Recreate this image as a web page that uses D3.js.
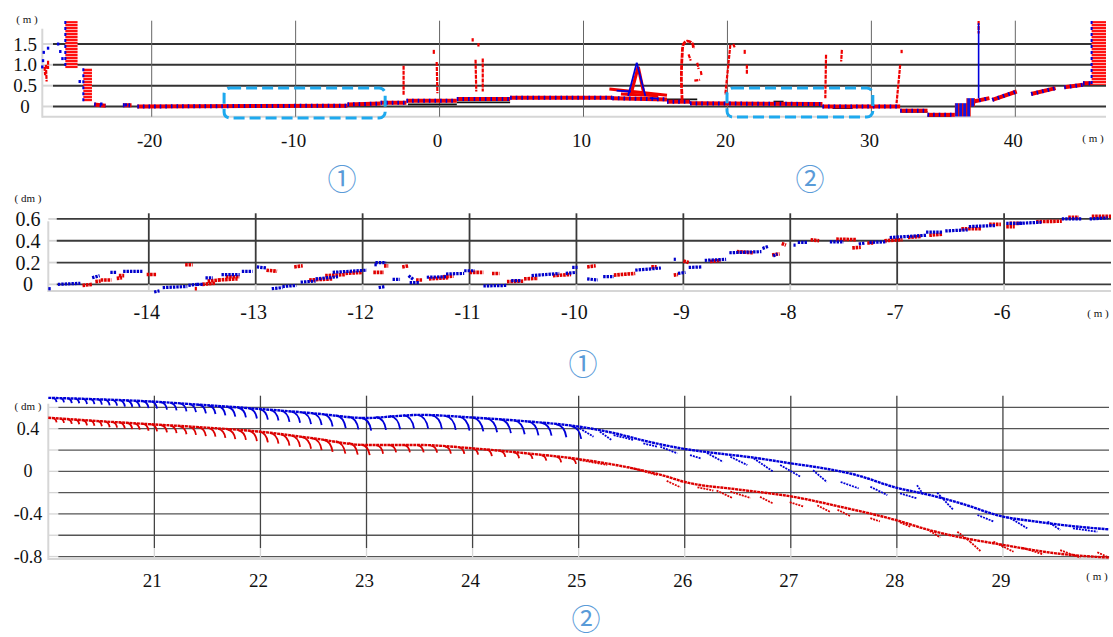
<!DOCTYPE html>
<html>
<head>
<meta charset="utf-8">
<script src="https://cdn.jsdelivr.net/npm/d3@7"></script>
<style>
  body { margin: 0; background: #fff; }
  svg { display: block; }
</style>
</head>
<body>
<svg id="chart" width="1113" height="637"></svg>
<script>
// ---------- overview (m) ----------
const ovXTicks = [-20, -10, 0, 10, 20, 30, 40];
const ovYTicks = [0, 0.5, 1.0, 1.5];
const ovYLabels = ["0", "0.5", "1.0", "1.5"];

// ground strips [x1, y1, x2, y2]
const ovGround = [
  [-24.0, 0.05, -23.2, 0.02], [-22.0, 0.03, -21.4, 0.03], [-21.0, 0.0, -6.4, 0.02],
  [-6.4, 0.05, -4.1, 0.07], [-4.1, 0.09, -2.3, 0.09], [-2.3, 0.14, 1.2, 0.14],
  [1.2, 0.18, 4.9, 0.18], [4.9, 0.21, 12.0, 0.21], [12.0, 0.2, 15.8, 0.17],
  [15.8, 0.115, 17.4, 0.115], [17.4, 0.075, 26.6, 0.06], [26.6, 0.0, 32.0, 0.0],
  [32.0, -0.1, 33.9, -0.1], [33.9, -0.2, 35.8, -0.2], [37.1, 0.12, 38.2, 0.2],
  [38.4, 0.16, 40.1, 0.36], [41.1, 0.3, 42.8, 0.44], [43.4, 0.46, 44.7, 0.52],
  [44.7, 0.56, 45.4, 0.56]
];
// reference surface (black)
const ovRef = [
  [-2.2, 0.05, 1.2, 0.05], [1.2, 0.1, 4.9, 0.1], [14.8, 0.17, 17.9, 0.17],
  [23.2, 0.12, 23.9, 0.12], [27.3, -0.04, 28.7, -0.04], [32.1, -0.13, 33.9, -0.13],
  [33.9, -0.23, 35.5, -0.23]
];
// walls [x0, x1, y0, y1]
const ovWalls = [[-26.0, -25.15, 0.92, 2.05], [-24.75, -24.15, 0.12, 0.92], [45.3, 46.3, 0.52, 2.05]];
const ovBlueBlocks = [[35.8, 36.9, -0.24, 0.08], [36.6, 37.2, 0.0, 0.2]];
const ovRedPoles = [
  [-2.5, 0.98, -2.5, 0.28], [-0.4, 1.36, -0.4, 1.24], [-0.2, 1.07, -0.15, 0.32],
  [2.3, 1.64, 2.3, 1.56], [2.7, 1.52, 2.7, 1.44], [2.5, 1.12, 2.55, 0.36], [3.0, 1.15, 3.0, 0.36],
  [17.3, 1.25, 17.45, 1.1], [17.9, 1.05, 18.0, 0.9], [18.15, 0.85, 18.2, 0.75], [17.7, 0.62, 18.1, 0.64],
  [20.2, 1.48, 19.85, 0.28], [20.4, 1.5, 20.5, 1.42], [21.2, 1.36, 21.2, 1.24], [21.35, 1.0, 21.35, 0.76],
  [26.85, 1.24, 26.8, 0.2], [27.95, 1.36, 27.9, 1.08], [32.1, 1.36, 32.1, 1.28], [32.0, 1.0, 31.75, 0.08],
  [37.45, 2.05, 37.45, 1.75],
  [-27.35, 1.0, -27.3, 0.6], [-27.45, 0.95, -27.4, 0.75], [-27.2, 1.1, -27.2, 0.9]
];
const ovBluePoles = [[37.45, 2.0, 37.45, 0.2]];
const ovTree = [[16.85, 0.16], [16.8, 0.7], [16.85, 1.2], [16.95, 1.5], [17.2, 1.57], [17.55, 1.52], [17.65, 1.38]];
const ovCarRed = [[11.8, 0.42, 15.8, 0.27], [12.6, 0.3, 15.2, 0.26], [13.3, 0.3, 13.8, 0.95], [13.8, 0.95, 14.2, 0.3]];
const ovCarBlue = [[13.1, 0.25, 13.7, 1.05], [13.7, 1.05, 14.3, 0.25], [12.3, 0.38, 13.3, 0.36], [14.6, 0.2, 15.2, 0.19]];
const ovBlueDots = [[-27.5, 1.3], [-27.55, 1.1], [-27.6, 0.95], [-27.2, 1.4], [-26.5, 1.5], [-26.35, 1.32],
  [-26.2, 1.15], [-25.0, 0.6], [-21.8, 0.04], [-23.5, 0.06]];
// highlighted regions [x0, x1, y0, y1]
const ovBoxes = [[-14.97, -3.78, -0.276, 0.444], [19.97, 30.1, -0.252, 0.444]];

// ---------- detail 1 (dm) ----------
const d1XTicks = [-14, -13, -12, -11, -10, -9, -8, -7, -6];
const d1YTicks = [0, 0.2, 0.4, 0.6];
const d1YLabels = ["0", "0.2", "0.4", "0.6"];
const d1Blue = [
  [-14.94, -0.04, -14.91, -0.04], [-14.85, 0.0, -14.64, 0.01], [-14.53, 0.06, -14.46, 0.08],
  [-14.36, 0.11, -14.3, 0.11], [-14.24, 0.12, -14.06, 0.12], [-13.95, -0.07, -13.9, -0.06],
  [-13.87, -0.03, -13.64, -0.02], [-13.63, -0.01, -13.55, 0.0], [-13.55, 0.0, -13.49, 0.0],
  [-13.47, 0.06, -13.4, 0.06], [-13.32, 0.09, -13.15, 0.09], [-13.13, 0.12, -13.03, 0.12],
  [-12.99, 0.16, -12.9, 0.15], [-12.85, -0.04, -12.75, -0.03], [-12.75, -0.02, -12.62, -0.01],
  [-12.58, 0.02, -12.44, 0.03], [-12.44, 0.05, -12.23, 0.07], [-12.28, 0.11, -11.96, 0.13],
  [-11.89, 0.18, -11.86, 0.18], [-11.88, 0.2, -11.78, 0.2], [-11.85, -0.03, -11.79, -0.02],
  [-11.72, 0.045, -11.65, 0.045], [-11.57, 0.08, -11.52, 0.04], [-11.56, 0.015, -11.47, 0.015],
  [-11.40, 0.065, -11.22, 0.07], [-11.22, 0.095, -11.05, 0.1], [-11.05, 0.125, -10.95, 0.125],
  [-10.87, -0.015, -10.65, -0.01], [-10.61, 0.035, -10.52, 0.035], [-10.42, 0.08, -10.16, 0.1],
  [-10.1, 0.1, -10.0, 0.11], [-10.04, 0.155, -9.99, 0.155], [-9.9, 0.05, -9.8, 0.04],
  [-9.75, 0.07, -9.65, 0.07], [-9.45, 0.13, -9.21, 0.15], [-9.09, 0.23, -9.07, 0.23],
  [-9.05, 0.1, -8.98, 0.11], [-8.95, 0.155, -8.83, 0.16], [-8.8, 0.22, -8.6, 0.23],
  [-8.57, 0.29, -8.27, 0.3], [-8.26, 0.33, -8.2, 0.35], [-8.16, 0.26, -8.12, 0.28],
  [-7.97, 0.36, -7.95, 0.36], [-7.93, 0.385, -7.84, 0.385], [-7.63, 0.39, -7.5, 0.39],
  [-7.36, 0.37, -7.3, 0.38], [-7.26, 0.385, -7.1, 0.39], [-7.07, 0.43, -6.73, 0.45],
  [-6.73, 0.48, -6.58, 0.48], [-6.55, 0.49, -6.34, 0.5], [-6.33, 0.53, -6.08, 0.54],
  [-5.98, 0.56, -5.83, 0.56], [-5.86, 0.56, -5.65, 0.57], [-5.46, 0.6, -5.27, 0.6],
  [-5.2, 0.6, -5.03, 0.61]
];
const d1Red = [
  [-14.62, -0.01, -14.53, 0.0], [-14.5, 0.025, -14.45, 0.03], [-14.45, 0.04, -14.35, 0.04],
  [-14.3, 0.055, -14.25, 0.06], [-14.28, 0.08, -14.23, 0.08], [-14.02, 0.09, -13.93, 0.09],
  [-13.66, 0.18, -13.59, 0.18], [-13.57, -0.04, -13.55, -0.04], [-13.5, 0.0, -13.38, 0.01],
  [-13.45, 0.03, -13.34, 0.04], [-13.35, 0.04, -13.17, 0.05], [-13.28, 0.07, -13.15, 0.07],
  [-12.9, 0.13, -12.8, 0.12], [-12.64, 0.16, -12.56, 0.17], [-12.5, 0.04, -12.28, 0.05],
  [-12.35, 0.08, -12.16, 0.09], [-12.16, 0.1, -12.0, 0.11], [-11.9, 0.11, -11.8, 0.11],
  [-11.8, 0.17, -11.76, 0.17], [-11.63, 0.16, -11.57, 0.17], [-11.5, 0.04, -11.44, 0.04],
  [-11.38, 0.05, -11.2, 0.06], [-11.25, 0.07, -11.15, 0.075], [-11.0, 0.11, -10.87, 0.11],
  [-10.79, 0.1, -10.72, 0.1], [-10.65, 0.025, -10.49, 0.03], [-10.49, 0.05, -10.36, 0.055],
  [-10.22, 0.08, -10.05, 0.09], [-9.9, 0.16, -9.82, 0.17], [-9.65, 0.085, -9.45, 0.1],
  [-9.3, 0.16, -9.25, 0.16], [-9.09, 0.085, -9.05, 0.09], [-9.0, 0.215, -8.95, 0.2],
  [-8.75, 0.21, -8.65, 0.22], [-8.5, 0.3, -8.35, 0.29], [-8.17, 0.27, -8.1, 0.28],
  [-8.08, 0.375, -8.04, 0.36], [-7.81, 0.41, -7.73, 0.4], [-7.57, 0.415, -7.38, 0.41],
  [-7.42, 0.335, -7.34, 0.34], [-7.28, 0.38, -7.22, 0.38], [-7.12, 0.4, -6.95, 0.41],
  [-6.9, 0.43, -6.78, 0.44], [-6.7, 0.45, -6.58, 0.46], [-6.4, 0.51, -6.21, 0.51],
  [-6.14, 0.55, -6.03, 0.55], [-5.98, 0.53, -5.9, 0.53], [-5.95, 0.56, -5.85, 0.56],
  [-5.7, 0.575, -5.46, 0.58], [-5.4, 0.615, -5.3, 0.615], [-5.18, 0.625, -5.0, 0.625]
];

// ---------- detail 2 (dm) ----------
const d2XTicks = [21, 22, 23, 24, 25, 26, 27, 28, 29];
const d2YGrid = [-0.8, -0.6, -0.4, -0.2, 0, 0.2, 0.4, 0.6];
const d2YTicks = [-0.8, -0.4, 0, 0.4];
const d2YLabels = ["-0.8", "-0.4", "0", "0.4"];
const d2BlueLine = [[20.0, 0.69], [20.5, 0.675], [21, 0.654], [21.5, 0.62], [22, 0.585], [22.5, 0.545],
  [23, 0.5], [23.3, 0.52], [23.5, 0.53], [24, 0.505], [24.5, 0.47], [25, 0.42], [25.33, 0.36],
  [25.65, 0.28], [26, 0.21], [26.3, 0.17], [26.6, 0.135], [27, 0.075], [27.3, 0.03], [27.6, -0.03],
  [28, -0.155], [28.3, -0.22], [28.6, -0.3], [29, -0.425], [29.3, -0.47], [29.57, -0.505], [30, -0.545]];
const d2RedLine = [[20, 0.503], [20.5, 0.47], [21, 0.44], [21.5, 0.41], [22, 0.372], [22.5, 0.31],
  [23, 0.247], [23.5, 0.247], [24, 0.216], [24.5, 0.17], [25, 0.115], [25.5, 0.03], [25.8, -0.04],
  [26, -0.1], [26.5, -0.17], [27, -0.235], [27.5, -0.34], [28, -0.46], [28.3, -0.55], [28.6, -0.62],
  [29, -0.69], [29.5, -0.77], [30, -0.81]];
// scan hooks [x, y, drop]
const d2BlueHooks = [
  [20.05, 0.69, 0.04], [20.12, 0.688, 0.04], [20.19, 0.686, 0.045], [20.26, 0.684, 0.045], [20.33, 0.682, 0.05],
  [20.40, 0.68, 0.05], [20.47, 0.677, 0.05], [20.54, 0.674, 0.055], [20.61, 0.671, 0.055], [20.68, 0.668, 0.06],
  [20.75, 0.665, 0.06], [20.82, 0.662, 0.06], [20.90, 0.658, 0.065], [20.98, 0.655, 0.065], [21.07, 0.65, 0.07],
  [21.16, 0.643, 0.07], [21.25, 0.637, 0.075], [21.34, 0.631, 0.075], [21.43, 0.625, 0.08], [21.52, 0.618, 0.08],
  [21.61, 0.611, 0.085], [21.70, 0.604, 0.09], [21.80, 0.597, 0.09], [21.90, 0.591, 0.095], [22.00, 0.585, 0.1],
  [22.10, 0.577, 0.1], [22.20, 0.569, 0.105], [22.30, 0.561, 0.105], [22.40, 0.553, 0.11], [22.50, 0.545, 0.11],
  [22.60, 0.536, 0.115], [22.72, 0.525, 0.12], [22.84, 0.513, 0.12], [22.96, 0.503, 0.12], [23.10, 0.51, 0.12],
  [23.23, 0.52, 0.125], [23.36, 0.527, 0.125], [23.49, 0.53, 0.13], [23.62, 0.527, 0.13], [23.75, 0.52, 0.13],
  [23.88, 0.513, 0.13], [24.01, 0.505, 0.13], [24.14, 0.497, 0.13], [24.27, 0.489, 0.13], [24.40, 0.478, 0.13],
  [24.53, 0.468, 0.13], [24.66, 0.455, 0.12], [24.80, 0.44, 0.12], [24.94, 0.425, 0.12]
];
const d2RedHooks = [
  [20.05, 0.5, 0.04], [20.12, 0.495, 0.04], [20.19, 0.491, 0.045], [20.26, 0.487, 0.045], [20.33, 0.482, 0.05],
  [20.40, 0.478, 0.05], [20.47, 0.473, 0.05], [20.54, 0.469, 0.055], [20.61, 0.465, 0.055], [20.68, 0.46, 0.06],
  [20.75, 0.456, 0.06], [20.82, 0.451, 0.06], [20.90, 0.446, 0.065], [20.98, 0.441, 0.065], [21.07, 0.435, 0.07],
  [21.16, 0.429, 0.07], [21.25, 0.423, 0.075], [21.34, 0.417, 0.075], [21.43, 0.411, 0.08], [21.52, 0.405, 0.08],
  [21.61, 0.399, 0.085], [21.70, 0.392, 0.09], [21.80, 0.385, 0.09], [21.90, 0.379, 0.095], [22.00, 0.372, 0.1],
  [22.10, 0.36, 0.1], [22.20, 0.347, 0.105], [22.30, 0.335, 0.105], [22.40, 0.322, 0.11], [22.50, 0.31, 0.11],
  [22.60, 0.297, 0.115], [22.72, 0.282, 0.115], [22.84, 0.267, 0.11], [22.96, 0.252, 0.1], [23.10, 0.245, 0.08],
  [23.23, 0.247, 0.07], [23.36, 0.248, 0.07], [23.49, 0.247, 0.07], [23.62, 0.24, 0.065], [23.75, 0.232, 0.065],
  [23.88, 0.224, 0.06], [24.01, 0.216, 0.06], [24.14, 0.203, 0.06], [24.27, 0.19, 0.055], [24.40, 0.178, 0.055],
  [24.53, 0.167, 0.05], [24.66, 0.15, 0.05], [24.80, 0.135, 0.05], [24.94, 0.12, 0.05]
];
// secondary scan lines [x1, y1, x2, y2]
const d2BlueScan = [
  [25.01, 0.404, 25.14, 0.325], [25.2, 0.372, 25.31, 0.294], [25.33, 0.34, 25.52, 0.294],
  [25.61, 0.263, 25.74, 0.231], [25.77, 0.231, 25.93, 0.169], [26.05, 0.153, 26.15, 0.122],
  [26.21, 0.172, 26.36, 0.09], [26.43, 0.137, 26.59, 0.059], [26.65, 0.122, 26.83, 0.0],
  [26.9, 0.06, 27.09, -0.05], [27.21, 0.01, 27.34, -0.1], [27.47, -0.1, 27.64, -0.16],
  [27.75, -0.145, 27.91, -0.223], [28.03, -0.207, 28.19, -0.254], [28.19, -0.13, 28.25, -0.22],
  [28.38, -0.2, 28.53, -0.36], [28.76, -0.41, 28.91, -0.47], [29.07, -0.44, 29.23, -0.535],
  [29.42, -0.47, 29.54, -0.55], [29.66, -0.535, 29.89, -0.567]
];
const d2RedScan = [
  [25.01, 0.106, 25.27, 0.06], [25.46, 0.043, 25.74, -0.035], [25.83, -0.09, 25.96, -0.15],
  [26.12, -0.15, 26.27, -0.18], [26.3, -0.18, 26.45, -0.25], [26.43, -0.19, 26.62, -0.25],
  [26.71, -0.24, 26.83, -0.3], [26.99, -0.29, 27.12, -0.33], [27.25, -0.32, 27.37, -0.38],
  [27.44, -0.36, 27.56, -0.42], [27.75, -0.44, 27.84, -0.47], [28.03, -0.48, 28.13, -0.52],
  [28.31, -0.56, 28.41, -0.62], [28.57, -0.567, 28.69, -0.66], [28.69, -0.66, 28.79, -0.75],
  [28.91, -0.66, 29.1, -0.755], [29.19, -0.72, 29.38, -0.78], [29.54, -0.74, 29.73, -0.81],
  [29.89, -0.76, 30.0, -0.81]
];

// ---------- drawing ----------
const svg = d3.select("#chart");
const RED = "#f00000", BLUE = "#0000dd";
const SERIF = "Liberation Serif";

const defs = svg.append("defs");
const hatch = defs.append("pattern").attr("id", "wallHatch")
  .attr("width", 6).attr("height", 3).attr("patternUnits", "userSpaceOnUse");
hatch.append("rect").attr("width", 6).attr("height", 3).attr("fill", "#ff1010");
hatch.append("rect").attr("y", 2.1).attr("width", 6).attr("height", 0.9).attr("fill", "#ffc0c0");
const blueHatch = defs.append("pattern").attr("id", "blueHatch")
  .attr("width", 4).attr("height", 4).attr("patternUnits", "userSpaceOnUse");
blueHatch.append("rect").attr("width", 4).attr("height", 4).attr("fill", "#1515e0");
blueHatch.append("rect").attr("x", 2).attr("width", 1.3).attr("height", 4).attr("fill", "#e01010");

function label(sel, size) {
  return sel.attr("font-family", SERIF).attr("font-size", size).attr("fill", "#111");
}

function frame(L) {
  const x = d3.scaleLinear().domain(L.xDomain).range([L.left, L.right]);
  const y = d3.scaleLinear().domain(L.yDomain).range([L.bottom, L.top]);
  const g = svg.append("g");

  g.append("line").attr("x1", L.left).attr("x2", L.left).attr("y1", L.top + 8).attr("y2", L.bottom + 1)
    .attr("stroke", "#d6d6d6").attr("stroke-width", 2);
  g.append("line").attr("x1", L.left).attr("x2", L.right).attr("y1", L.bottom).attr("y2", L.bottom)
    .attr("stroke", "#d6d6d6").attr("stroke-width", 2);

  // y stubs and grid
  g.selectAll(".ystub").data(L.yGrid).join("line").attr("class", "ystub")
    .attr("x1", L.left).attr("x2", L.gridStart).attr("y1", d => y(d)).attr("y2", d => y(d))
    .attr("stroke", "#d6d6d6").attr("stroke-width", L.hWidth);
  g.selectAll(".ygrid").data(L.yGrid).join("line").attr("class", "ygrid")
    .attr("x1", L.gridStart).attr("x2", L.right).attr("y1", d => y(d)).attr("y2", d => y(d))
    .attr("stroke", L.hColor).attr("stroke-width", L.hWidth);

  // x grid: dark part + light tail
  g.selectAll(".xgrid").data(L.xTicks).join("line").attr("class", "xgrid")
    .attr("x1", d => x(d)).attr("x2", d => x(d)).attr("y1", L.top).attr("y2", y(L.darkTo))
    .attr("stroke", L.vColor).attr("stroke-width", L.vWidth);
  g.selectAll(".xtail").data(L.xTicks).join("line").attr("class", "xtail")
    .attr("x1", d => x(d)).attr("x2", d => x(d)).attr("y1", y(L.darkTo)).attr("y2", L.bottom)
    .attr("stroke", "#d6d6d6").attr("stroke-width", L.vWidth);

  // labels
  g.selectAll(".xlab").data(L.xTicks).join("text").attr("class", "xlab")
    .call(label, L.xFont)
    .attr("x", d => x(d) - 2).attr("y", L.xLabelY)
    .attr("text-anchor", "middle").attr("dominant-baseline", "central").text(d => d);
  g.selectAll(".ylab").data(L.yTicks).join("text").attr("class", "ylab")
    .call(label, L.yFont)
    .attr("x", L.yLabelX).attr("y", d => y(d))
    .attr("text-anchor", "middle").attr("dominant-baseline", "central").text((d, i) => L.yLabels[i]);
  g.append("text").call(label, 11)
    .attr("x", L.unitY[0]).attr("y", L.unitY[1]).attr("text-anchor", "middle")
    .attr("dominant-baseline", "central").text(L.unitYText);
  g.append("text").call(label, 11)
    .attr("x", L.unitX[0]).attr("y", L.unitX[1]).attr("text-anchor", "middle")
    .attr("dominant-baseline", "central").text("( m )");
  return { g, x, y };
}

function segs(g, data, x, y, color, width, dash) {
  g.append("g").selectAll("line").data(data).join("line")
    .attr("x1", d => x(d[0])).attr("y1", d => y(d[1]))
    .attr("x2", d => x(d[2])).attr("y2", d => y(d[3]))
    .attr("stroke", color).attr("stroke-width", width)
    .attr("stroke-dasharray", dash || null);
}

// ===== panel 1 =====
const p1 = frame({
  left: 42.3, right: 1106, top: 20.7, bottom: 116.7, gridStart: 53,
  xDomain: [-27.6, 46.3], yDomain: [-0.245, 2.06],
  xTicks: ovXTicks, yGrid: ovYTicks, yTicks: ovYTicks, yLabels: ovYLabels,
  hWidth: 2, hColor: "#333", vWidth: 1, vColor: "#666", darkTo: -0.245,
  xLabelY: 140, xFont: 19, yLabelX: 25, yFont: 19,
  unitY: [27, 19], unitYText: "( m )", unitX: [1093, 138]
});
{
  const { g, x, y } = p1;
  segs(g, ovRef, x, y, "#111", 1.6);
  segs(g, ovGround, x, y, RED, 4);
  segs(g, ovGround, x, y, BLUE, 4, "1.6,4");
  g.append("g").selectAll("rect").data(ovWalls).join("rect")
    .attr("x", d => x(d[0])).attr("width", d => x(d[1]) - x(d[0]))
    .attr("y", d => y(d[3])).attr("height", d => y(d[2]) - y(d[3]))
    .attr("fill", "url(#wallHatch)");
  g.append("g").selectAll("line").data(ovWalls).join("line")
    .attr("x1", d => x(d[0])).attr("x2", d => x(d[0]))
    .attr("y1", d => y(d[3])).attr("y2", d => y(d[2]))
    .attr("stroke", BLUE).attr("stroke-width", 2).attr("stroke-dasharray", "3,3");
  g.append("g").selectAll("rect").data(ovBlueBlocks).join("rect")
    .attr("x", d => x(d[0])).attr("width", d => x(d[1]) - x(d[0]))
    .attr("y", d => y(d[3])).attr("height", d => y(d[2]) - y(d[3]))
    .attr("fill", "url(#blueHatch)");
  segs(g, ovRedPoles, x, y, RED, 2.2, "4,1");
  segs(g, ovBluePoles, x, y, BLUE, 1.6);
  segs(g, ovCarRed, x, y, RED, 3.2);
  segs(g, ovCarBlue, x, y, BLUE, 1.8);
  g.append("path").datum(ovTree)
    .attr("d", d3.line().x(d => x(d[0])).y(d => y(d[1])).curve(d3.curveCatmullRom))
    .attr("fill", "none").attr("stroke", RED).attr("stroke-width", 2.8).attr("stroke-dasharray", "5,1");
  g.append("g").selectAll("rect").data(ovBlueDots).join("rect")
    .attr("x", d => x(d[0]) - 1.2).attr("y", d => y(d[1]) - 1.5)
    .attr("width", 2.4).attr("height", 3).attr("fill", BLUE);
  g.append("g").selectAll("rect").data(ovBoxes).join("rect")
    .attr("x", d => x(d[0])).attr("width", d => x(d[1]) - x(d[0]))
    .attr("y", d => y(d[3])).attr("height", d => y(d[2]) - y(d[3]))
    .attr("rx", 6).attr("fill", "none").attr("stroke", "#1ea9ee")
    .attr("stroke-width", 3).attr("stroke-dasharray", "11,5");
}

// ===== panel 2 =====
const p2 = frame({
  left: 48.3, right: 1111, top: 213.3, bottom: 291, gridStart: 56.7,
  xDomain: [-14.94, -5.0], yDomain: [-0.061, 0.652],
  xTicks: d1XTicks, yGrid: d1YTicks, yTicks: d1YTicks, yLabels: d1YLabels,
  hWidth: 1.8, hColor: "#3a3a3a", vWidth: 1.8, vColor: "#3a3a3a", darkTo: 0,
  xLabelY: 311.5, xFont: 20, yLabelX: 28, yFont: 20,
  unitY: [28, 198], unitYText: "( dm )", unitX: [1098, 313]
});
{
  const { g, x, y } = p2;
  segs(g, d1Red, x, y, "#e00000", 3.6, "2.6,0.8");
  segs(g, d1Blue, x, y, "#0000cc", 3.2, "2.4,1");
}

// ===== panel 3 =====
const p3 = frame({
  left: 48.3, right: 1109, top: 395.7, bottom: 559, gridStart: 58.3,
  xDomain: [20, 30], yDomain: [-0.823, 0.71],
  xTicks: d2XTicks, yGrid: d2YGrid, yTicks: d2YTicks, yLabels: d2YLabels,
  hWidth: 1.3, hColor: "#555", vWidth: 1.3, vColor: "#444", darkTo: -0.72,
  xLabelY: 580, xFont: 19, yLabelX: 28, yFont: 18,
  unitY: [28, 406], unitYText: "( dm )", unitX: [1097, 576]
});
{
  const { g, x, y } = p3;
  const line = d3.line().x(d => x(d[0])).y(d => y(d[1])).curve(d3.curveMonotoneX);
  // short scan hook: leaves the surface line and bends down to the right
  const hook = d => {
    const px = x(d[0]), py = y(d[1]), h = y(d[1] - d[2]) - py;
    return `M${px - 1},${py} Q${px + h * 0.55},${py + h * 0.1} ${px + h * 0.7},${py + h}`;
  };
  [[d2BlueLine, d2BlueHooks, d2BlueScan, "#0000d8"], [d2RedLine, d2RedHooks, d2RedScan, "#dc0000"]]
    .forEach(([ln, hooks, scan, c]) => {
      g.append("path").datum(ln).attr("d", line)
        .attr("fill", "none").attr("stroke", c).attr("stroke-width", 2.4).attr("stroke-dasharray", "3,0.7");
      g.append("g").selectAll("path").data(hooks).join("path").attr("d", hook)
        .attr("fill", "none").attr("stroke", c).attr("stroke-width", 1.8);
      segs(g, scan, x, y, c, 1.8, "2,1");
    });
}

// circled region markers
const markers = [["①", 342, 177], ["②", 810, 177], ["①", 583, 362], ["②", 586, 617]];
svg.append("g").selectAll("text").data(markers).join("text")
  .attr("x", d => d[1]).attr("y", d => d[2])
  .attr("text-anchor", "middle").attr("dominant-baseline", "central")
  .attr("font-family", "Noto Sans CJK SC").attr("font-size", 29)
  .attr("fill", "#5a9bd8").text(d => d[0]);
</script>
</body>
</html>
